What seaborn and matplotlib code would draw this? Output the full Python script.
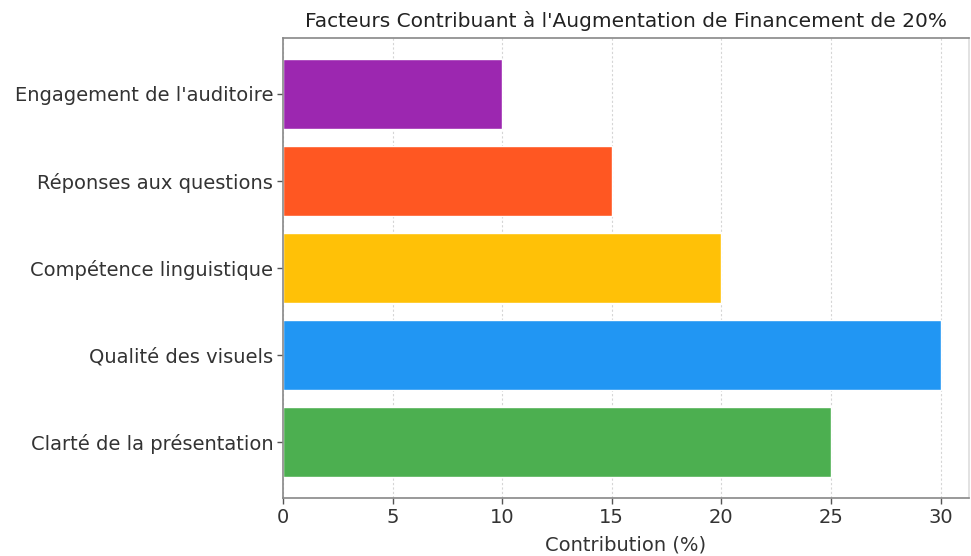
import matplotlib
matplotlib.use("Agg")
import matplotlib.pyplot as plt
import seaborn as sns
import pandas as pd

categories = ["Engagement de l'auditoire", "Réponses aux questions", "Compétence linguistique",
              "Qualité des visuels", "Clarté de la présentation"]
values = [10, 15, 20, 30, 25]
colors = ["#9C27B0", "#FF5722", "#FFC107", "#2196F3", "#4CAF50"]
xticks = [0, 5, 10, 15, 20, 25, 30]

sns.set_theme(style="white")
plt.rcParams['font.family'] = ['DejaVu Sans']

df = pd.DataFrame({"Facteur": categories, "Contribution": values})

fig = plt.figure(figsize=(9.71, 5.56), dpi=100)
ax = fig.add_axes([0.2915, 0.1043, 0.7065, 0.8274])
sns.barplot(data=df, y="Facteur", x="Contribution", hue="Facteur", palette=colors,
            orient="h", width=0.8, legend=False, ax=ax, saturation=1)

ax.set_xlim(0, 31.3)
ax.set_ylim(4.64, -0.64)
ax.set_xticks(xticks)
ax.tick_params(axis="y", labelsize=14, length=4, width=1, left=True, color="#555555", pad=3)
ax.tick_params(axis="x", labelsize=14, length=4, width=1, bottom=True, color="#555555", pad=3)
for lab in ax.get_xticklabels() + ax.get_yticklabels():
    lab.set_color("#333333")
ax.xaxis.grid(True, linestyle=(0, (2, 2)), color="#d5d5d5", linewidth=0.8)
ax.set_axisbelow(True)
ax.set_ylabel("")
ax.set_xlabel("Contribution (%)", fontsize=14, color="#333333", labelpad=6)
ax.set_title("Facteurs Contribuant à l'Augmentation de Financement de 20%",
             fontsize=14.5, color="#222222", pad=8)
for s in ax.spines.values():
    s.set_color("#888888")
    s.set_linewidth(1.2)
ax.spines["right"].set_color("#dddddd")

fig.savefig("out.png", dpi=100)
